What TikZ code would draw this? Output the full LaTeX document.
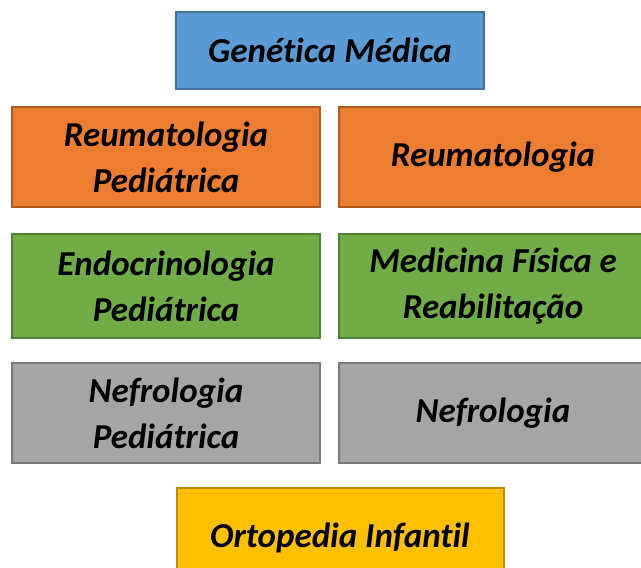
\documentclass[tikz,border=0pt]{standalone}
\usepackage{fontspec}
\setmainfont{Carlito}[Ligatures = CommonOff]
\usetikzlibrary{positioning}

\definecolor{blue_fill}{HTML}{5B9BD5}
\definecolor{blue_line}{HTML}{41719C}
\definecolor{orange_fill}{HTML}{ED7D31}
\definecolor{orange_line}{HTML}{AE5A21}
\definecolor{green_fill}{HTML}{70AD47}
\definecolor{green_line}{HTML}{507E32}
\definecolor{gray_fill}{HTML}{A5A5A5}
\definecolor{gray_line}{HTML}{787878}
\definecolor{gold_fill}{HTML}{FFC000}
\definecolor{gold_line}{HTML}{BC8C00}

\tikzset{
    spec/.style = {rectangle, line width = 2pt, align = center, inner sep = 0pt,
        minimum width = 308pt, minimum height = 100pt,
        font = \fontsize{35}{46}\selectfont\bfseries\itshape},
    spec_blue/.style = {spec, fill = blue_fill, draw = blue_line},
    spec_orange/.style = {spec, fill = orange_fill, draw = orange_line},
    spec_green/.style = {spec, fill = green_fill, draw = green_line},
    spec_gray/.style = {spec, fill = gray_fill, draw = gray_line},
    spec_gold/.style = {spec, fill = gold_fill, draw = gold_line}
}

\begin{document}
\begin{tikzpicture}[x = 1pt, y = -1pt]
            \clip (0, 0) rectangle (641, 568);
            
            \node[spec_blue, minimum height = 77pt] (gen_med) at (330, 50) {Genética Médica};
            
            \node[spec_orange] (reum_ped) at (166, 157) {Reumatologia\\Pediátrica};
            \node[spec_orange] (reum) at (493, 157) {Reumatologia};
            
            \node[spec_green, minimum height = 104pt] (endo_ped) at (166, 286) {Endocrinologia\\Pediátrica};
            \node[spec_green, minimum height = 104pt] (med_fis) at (493, 286) {Medicina Física e\\Reabilitação};
            
            \node[spec_gray] (nefro_ped) at (166, 413) {Nefrologia\\Pediátrica};
            \node[spec_gray] (nefro) at (493, 413) {Nefrologia};
            
            \node[spec_gold, minimum width = 327pt] (orto_inf) at (340, 538) {Ortopedia Infantil};
        \end{tikzpicture}
\end{document}
